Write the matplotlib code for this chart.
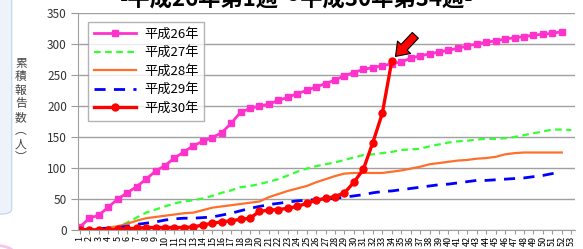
import numpy as np
import matplotlib
matplotlib.use("Agg")
import matplotlib.pyplot as plt
from matplotlib.patches import FancyBboxPatch, Circle

plt.rcParams['font.family'] = ['Noto Sans CJK JP', 'DejaVu Sans']

# 週ごとの累積報告数
h26 = [5, 19, 24, 37, 50, 60, 70, 82, 95, 104, 116, 126, 136, 143, 149, 157, 172, 190, 196, 200,
       203, 209, 214, 220, 225, 231, 236, 242, 249, 254, 259, 262, 265, 268, 271, 277, 281, 284, 287, 290,
       293, 297, 300, 303, 305, 308, 310, 312, 314, 316, 317, 320]
h27 = [0, 0, 1, 2, 5, 12, 20, 28, 33, 38, 43, 46, 48, 51, 55, 60, 64, 69, 71, 74,
       78, 82, 88, 94, 99, 103, 106, 109, 113, 117, 121, 122, 124, 126, 129, 130, 131, 135, 138, 141,
       143, 144, 146, 147, 147, 148, 150, 153, 156, 159, 162, 162, 161]
h28 = [0, 1, 2, 4, 6, 10, 15, 19, 21, 23, 25, 27, 28, 32, 36, 38, 40, 42, 44, 46,
       53, 58, 63, 67, 71, 77, 82, 87, 91, 92, 92, 92, 92, 94, 96, 99, 102, 106, 108, 110,
       112, 113, 115, 116, 118, 122, 124, 125, 125, 125, 125, 125]
h29 = [0, 1, 2, 3, 4, 6, 9, 11, 13, 16, 18, 19, 19, 20, 21, 24, 27, 31, 35, 38,
       41, 43, 45, 47, 48, 49, 50, 51, 53, 55, 57, 60, 62, 63, 65, 67, 69, 71, 73, 74,
       76, 78, 80, 80, 81, 82, 83, 84, 86, 88, 91, 94]
h30 = [0, 0, 0, 0, 1, 2, 3, 4, 4, 4, 4, 4, 5, 8, 11, 13, 15, 17, 19, 30,
       32, 33, 35, 38, 43, 48, 51, 54, 60, 77, 98, 141, 188, 272]

weeks = list(range(1, 54))
labels = ['平成26年', '平成27年', '平成28年', '平成29年', '平成30年']

fig = plt.figure(figsize=(5.83, 2.49), dpi=100)
fig.patch.set_facecolor('white')

# 左側の枠の飾り
fig.patches.append(FancyBboxPatch((-0.03, 0.14), 0.05, 0.95, boxstyle='round,pad=0,rounding_size=0.02',
                                  transform=fig.transFigure, fc='#EEF3FB', ec='#C8D8EE', lw=1))
fig.patches.append(Circle((-0.01, -0.02), 0.035, transform=fig.transFigure, fc='none', ec='#F7C4EE', lw=2))

ax = fig.add_axes([78 / 583, 19 / 249, 497 / 583, 217 / 249])

ax.plot(range(1, len(h26) + 1), h26, color='#FF33CC', lw=2, marker='s', ms=4.5, label=labels[0])
ax.plot(range(1, len(h27) + 1), h27, color='#33FF33', lw=1.6, ls=(0, (3, 2)), label=labels[1])
ax.plot(range(1, len(h28) + 1), h28, color='#FF6F2A', lw=1.6, label=labels[2])
ax.plot(range(1, len(h29) + 1), h29, color='#0000FF', lw=2, ls=(0, (4, 3)), label=labels[3])
ax.plot(range(1, len(h30) + 1), h30, color='#FF0000', lw=2.4, marker='o', ms=5, label=labels[4])

ax.set_xlim(0.79, 53.4)
ax.set_ylim(0, 350)
ax.set_yticks(range(0, 351, 50))
ax.set_xticks(weeks)
ax.set_xticklabels([str(w) for w in weeks], rotation=90, fontsize=6.5)
ax.tick_params(axis='x', length=3, color='#999999', pad=1)
ax.tick_params(axis='y', length=5, color='#999999', labelsize=8.5, labelcolor='#333333', pad=3)
ax.grid(axis='y', color='#A0A0A0', lw=1)
ax.set_axisbelow(True)
for s in ['top', 'right']:
    ax.spines[s].set_visible(False)
ax.spines['left'].set_color('#A0A0A0')
ax.spines['bottom'].set_color('#A0A0A0')

ax.set_ylabel('\n'.join('累積報告数︵人︶'), rotation=0, fontsize=8.5, color='#444444',
              linespacing=1.05, va='center', labelpad=18)
ax.yaxis.set_label_coords(-0.115, 0.55)

leg = ax.legend(loc='upper left', bbox_to_anchor=(0.02, 0.96), borderaxespad=0, fontsize=9.5,
                frameon=True, fancybox=False, handlelength=3.2, borderpad=0.45, labelspacing=0.42,
                handletextpad=0.6)
leg.get_frame().set_edgecolor('#A0A0A0')
leg.get_frame().set_linewidth(1)

# 矢印
ax.annotate('', xy=(34.4, 280), xytext=(36.5, 314),
            arrowprops=dict(arrowstyle='simple,head_width=1.3,head_length=0.9,tail_width=0.6',
                            fc='#FF0000', ec='black', lw=0.8, mutation_scale=10, shrinkA=0, shrinkB=0))

fig.text(297 / 583, 1.002, '-平成26年第1週～平成30年第34週-', ha='center', va='center',
         fontsize=16, fontweight='bold')

fig.savefig('out.png', dpi=100)
